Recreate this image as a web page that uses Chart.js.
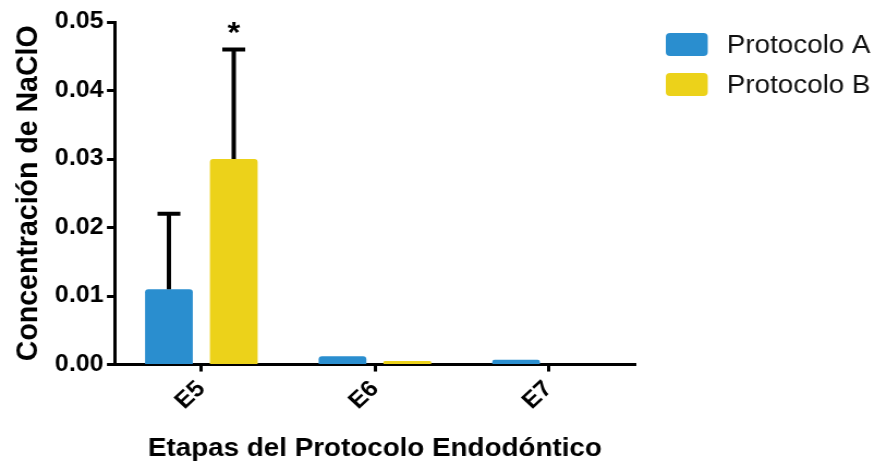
<!DOCTYPE html>
<html>
<head>
<meta charset="utf-8">
<script src="https://cdn.jsdelivr.net/npm/chart.js@4/dist/chart.umd.min.js"></script>
<style>
html,body{margin:0;padding:0;background:#fff;overflow:hidden;}
#c{display:block;}
</style>
</head>
<body>
<canvas id="c" width="803" height="463" style="width:875px;height:463px;"></canvas>
<script>
const categories = ['E5', 'E6', 'E7'];
const protocoloA = [0.011, 0.0012, 0.0007];
const protocoloB = [0.030, 0.0005, 0];
const errorA = [0.011, 0, 0];
const errorB = [0.016, 0, 0];
const marksA = ['', '', ''];
const marksB = ['*', '', ''];
const yTicks = [0, 0.01, 0.02, 0.03, 0.04, 0.05];

const FONT = "'Liberation Sans', Arial, sans-serif";

const errorBarPlugin = {
  id: 'errorBars',
  afterDatasetsDraw(chart) {
    const ctx = chart.ctx;
    const y = chart.scales.y;
    chart.data.datasets.forEach((ds, di) => {
      const meta = chart.getDatasetMeta(di);
      meta.data.forEach((bar, i) => {
        const v = ds.data[i];
        const e = ds.errors[i];
        let topPix = bar.y;
        if (e > 0) {
          topPix = y.getPixelForValue(v + e);
          ctx.save();
          ctx.strokeStyle = '#000';
          ctx.lineWidth = 4;
          ctx.beginPath();
          ctx.moveTo(bar.x, bar.y);
          ctx.lineTo(bar.x, topPix);
          ctx.moveTo(bar.x - 10.5, topPix);
          ctx.lineTo(bar.x + 10.5, topPix);
          ctx.stroke();
          ctx.restore();
        }
        const m = ds.marks[i];
        if (m) {
          ctx.save();
          ctx.fillStyle = '#000';
          ctx.font = 'bold 30px ' + FONT;
          ctx.textAlign = 'center';
          ctx.textBaseline = 'alphabetic';
          ctx.fillText(m, bar.x, topPix - 7);
          ctx.restore();
        }
      });
    });
  }
};

const legendPlugin = {
  id: 'sideLegend',
  afterDraw(chart) {
    const ctx = chart.ctx;
    const area = chart.chartArea;
    const x0 = area.right + 28;
    let y0 = 33;
    chart.data.datasets.forEach((ds) => {
      ctx.save();
      ctx.fillStyle = ds.backgroundColor;
      ctx.beginPath();
      ctx.roundRect(x0, y0, 38.5, 23, 4);
      ctx.fill();
      ctx.fillStyle = '#111';
      ctx.font = '25.5px ' + FONT;
      ctx.textAlign = 'left';
      ctx.textBaseline = 'middle';
      ctx.fillText(ds.label, x0 + 56, y0 + 12.5);
      ctx.restore();
      y0 += 40;
    });
  }
};

new Chart(document.getElementById('c'), {
  type: 'bar',
  data: {
    labels: categories,
    datasets: [
      {
        label: 'Protocolo A',
        data: protocoloA,
        errors: errorA,
        marks: marksA,
        backgroundColor: '#2a8ecf',
        borderRadius: 3,
        borderSkipped: 'bottom',
        categoryPercentage: 0.747,
        barPercentage: 0.736
      },
      {
        label: 'Protocolo B',
        data: protocoloB,
        errors: errorB,
        marks: marksB,
        backgroundColor: '#ecd21a',
        borderRadius: 3,
        borderSkipped: 'bottom',
        categoryPercentage: 0.747,
        barPercentage: 0.736
      }
    ]
  },
  options: {
    responsive: false,
    maintainAspectRatio: false,
    animation: false,
    devicePixelRatio: 1,
    layout: { padding: { top: 22, left: 6, right: 220, bottom: 0 } },
    plugins: {
      tooltip: { enabled: false },
      legend: { display: false }
    },
    scales: {
      x: {
        offset: true,
        border: { display: true, color: '#000', width: 3 },
        grid: { display: true, drawOnChartArea: false, drawTicks: true, offset: false, tickLength: 7, tickWidth: 3, tickColor: '#000' },
        ticks: {
          color: '#000', maxRotation: 45, minRotation: 45, padding: 4,
          font: { family: FONT, size: 23, weight: 'bold' }
        },
        title: {
          display: true, text: 'Etapas del Protocolo Endodóntico', color: '#000',
          font: { family: FONT, size: 25.5, weight: 'bold', lineHeight: 1.1 }, padding: { top: 16, bottom: 0 }
        }
      },
      y: {
        min: 0, max: 0.05,
        border: { display: true, color: '#000', width: 3 },
        grid: { display: true, drawOnChartArea: false, drawTicks: true, tickLength: 7, tickWidth: 3, tickColor: '#000' },
        afterBuildTicks(scale) { scale.ticks = yTicks.map(v => ({ value: v })); },
        ticks: {
          color: '#000', padding: 3,
          font: { family: FONT, size: 23, weight: 'bold' },
          callback: (v) => Number(v).toFixed(2)
        },
        title: {
          display: true, text: 'Concentración de NaClO', color: '#000',
          font: { family: FONT, size: 28.5, weight: 'bold', lineHeight: 1.1 }, padding: { top: 4, bottom: 6 }
        }
      }
    }
  },
  plugins: [errorBarPlugin, legendPlugin]
});
</script>
</body>
</html>
